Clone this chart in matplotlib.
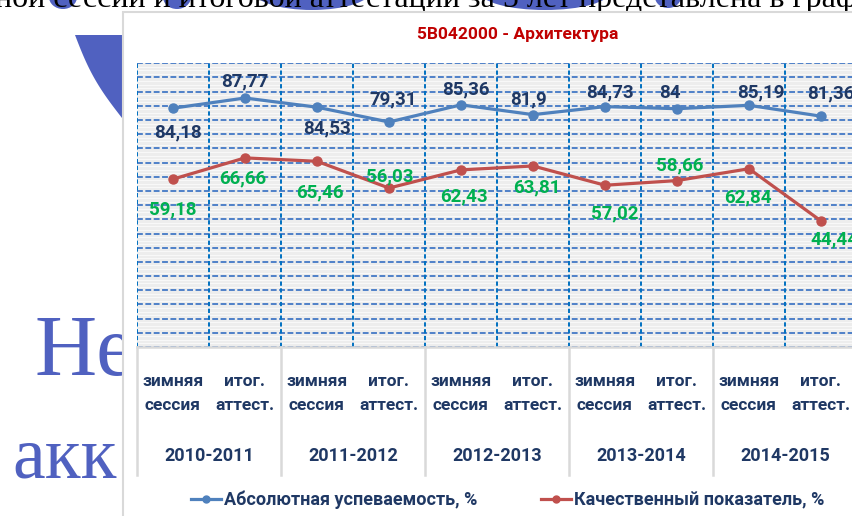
import matplotlib
matplotlib.use("Agg")
import matplotlib.pyplot as plt
import matplotlib.transforms as mtransforms
from matplotlib.patches import Rectangle, Ellipse, Polygon
from matplotlib.lines import Line2D
import numpy as np

# ---------------- data ----------------
title = "5B042000 - Архитектура"
categories = ["зимняя\nсессия", "итог.\nаттест."] * 5
years = ["2010-2011", "2011-2012", "2012-2013", "2013-2014", "2014-2015"]
series_names = ["Абсолютная успеваемость, %", "Качественный показатель, %"]
abs_values = [84.18, 87.77, 84.53, 79.31, 85.36, 81.9, 84.73, 84, 85.19, 81.36]
qual_values = [59.18, 66.66, 65.46, 56.03, 62.43, 63.81, 57.02, 58.66, 62.84, 44.44]

# label offsets in pixels (style)
abs_off = [(5, -24), (0, 17), (10, -21), (4, 23), (5, 15), (-4, 15), (5, 14), (-7, 16), (12, 13), (10, 23)]
qual_off = [(0, -30), (-2, -21), (3, -31), (1, 12), (3, -27), (4, -21), (10, -28), (3, 15), (-1, -29), (14, -19)]

W, H, DPI = 853, 516, 100
FONT = ["Roboto", "DejaVu Sans"]
SERIF = ["Liberation Serif", "DejaVu Serif"]
NAVY = "#1F3864"
BLUE = "#4F81BD"
RED = "#C0504D"
GREEN = "#00B050"
SLIDE_BLUE = "#5061C0"

fig = plt.figure(figsize=(W / DPI, H / DPI), dpi=DPI)
fig.patch.set_facecolor("white")

# pixel transform: x right, y down, origin top-left
pix = mtransforms.Affine2D().scale(1 / W, -1 / H).translate(0, 1) + fig.transFigure

# ---------------- slide background ----------------
for (cx, cy, w, h) in [(63, -3, 28, 24), (177, -3, 28, 24), (312, -10, 120, 40),
                       (545, -8, 130, 36), (668, -3, 26, 22)]:
    fig.patches.append(Ellipse((cx, cy), w, h, transform=pix, facecolor=SLIDE_BLUE,
                               edgecolor="none", zorder=-4))

t = np.linspace(0, 1, 30)
cx_ = 75 + 47 * t - 4 * np.sin(np.pi * t)
cy_ = 35 + 83 * t + 2 * np.sin(np.pi * t)
pts = list(zip(cx_, cy_)) + [(140, 118), (140, 35)]
fig.patches.append(Polygon(pts, closed=True, transform=pix, facecolor=SLIDE_BLUE,
                           edgecolor="none", zorder=-4))

fig.text(-5, 7, "ной сессии и итоговой аттестации за 5 лет представлена в графике",
         transform=pix, family=SERIF, fontsize=23, color="black", ha="left",
         va="baseline", zorder=-3)
fig.text(35, 375, "Не", transform=pix, family=SERIF, fontsize=62,
         color=SLIDE_BLUE, ha="left", va="baseline", zorder=-3)
fig.text(12, 477, "акк", transform=pix, family=SERIF, fontsize=53,
         color=SLIDE_BLUE, ha="left", va="baseline", zorder=-3)

# chart area box
fig.patches.append(Rectangle((123, 12), 800, 560, transform=pix, facecolor="white",
                             edgecolor="#D9D9D9", linewidth=1.5, zorder=-1))

# ---------------- plot area ----------------
left, right, top, bottom = 137, 857, 63.3, 347
ax = fig.add_axes([left / W, 1 - bottom / H, (right - left) / W, (bottom - top) / H])
ax.set_facecolor("#EDEDED")
x = np.arange(len(categories))
ax.set_xlim(-0.5, len(categories) - 0.5)
ax.set_ylim(0, 100)

ax.set_yticks(np.arange(0, 101, 5))
ax.set_yticks(np.arange(0, 100, 1.25), minor=True)
ax.grid(axis="y", which="minor", color="#F8F8F8", linewidth=0.8, zorder=0)
ax.grid(axis="y", which="major", color="#4F81C8", linestyle=(0, (3, 1.3)),
        linewidth=1.4, zorder=1)
ax.set_axisbelow(True)
bounds = np.arange(-0.5, len(categories), 1.0)
ax.vlines(bounds, 0, 100, colors="#0070C0", linestyles=(0, (2.2, 1.3)),
          linewidth=1.4, zorder=1)

ax.tick_params(which="both", length=0, labelleft=False, labelbottom=False)
for s in ["left", "right", "top"]:
    ax.spines[s].set_visible(False)
ax.spines["bottom"].set_color("#D9D9D9")
ax.spines["bottom"].set_linewidth(1.8)

ax.plot(x, abs_values, color=BLUE, linewidth=2.3, marker="o", markersize=6.5,
        zorder=3, solid_capstyle="round")
ax.plot(x, qual_values, color=RED, linewidth=2.3, marker="o", markersize=6.5,
        zorder=3, solid_capstyle="round")


def fmt(v):
    return f"{v:g}".replace(".", ",")


for i, v in enumerate(abs_values):
    ax.annotate(fmt(v), (i, v), xytext=abs_off[i], textcoords="offset pixels",
                ha="center", va="center", family=FONT, fontweight="bold",
                fontsize=13.5, color=NAVY, zorder=4, annotation_clip=False)
for i, v in enumerate(qual_values):
    ax.annotate(fmt(v), (i, v), xytext=qual_off[i], textcoords="offset pixels",
                ha="center", va="center", family=FONT, fontweight="bold",
                fontsize=13.5, color=GREEN, zorder=4, annotation_clip=False)

# category labels
xt = ax.get_xaxis_transform()
ph = bottom - top
for i, c in enumerate(categories):
    l1, l2 = c.split("\n")
    ax.text(i, (bottom - 381.5) / ph, l1, transform=xt, ha="center", va="center",
            family=FONT, fontweight="bold", fontsize=12.5, color=NAVY, clip_on=False)
    ax.text(i, (bottom - 405.5) / ph, l2, transform=xt, ha="center", va="center",
            family=FONT, fontweight="bold", fontsize=12.5, color=NAVY, clip_on=False)
for j, yname in enumerate(years):
    ax.text(2 * j + 0.5, (bottom - 456) / ph, yname, transform=xt, ha="center",
            va="center", family=FONT, fontweight="bold", fontsize=13, color=NAVY,
            clip_on=False)
for b in np.arange(-0.5, len(categories), 2.0):
    ax.plot([b, b], [0, (bottom - 475) / ph], transform=xt, color="#D9D9D9",
            linewidth=1.8, clip_on=False, zorder=2)

# title
fig.text(518, 35, title, transform=pix, ha="center", va="center", family=FONT,
         fontweight="bold", fontsize=12.5, color="#C00000")

# legend
handles = [Line2D([], [], color=BLUE, linewidth=2.3, marker="o", markersize=5),
           Line2D([], [], color=RED, linewidth=2.3, marker="o", markersize=5)]
leg = fig.legend(handles, series_names, loc="center",
                 bbox_to_anchor=(507.5 / W, 1 - 500 / H), ncol=2, frameon=False,
                 prop={"family": FONT, "weight": "bold", "size": 13},
                 handlelength=1.7, handletextpad=0.15, columnspacing=3.5,
                 labelcolor=NAVY, borderpad=0)

fig.savefig("out.png", dpi=DPI)
